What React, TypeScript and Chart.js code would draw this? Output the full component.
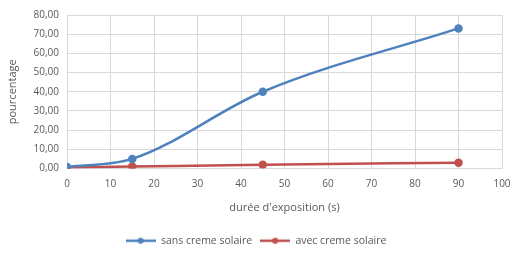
import React, { useEffect, useRef } from "react";
import { Chart, registerables } from "chart.js";

Chart.register(...registerables);

const durations = [0, 15, 45, 90];
const sansCreme = [0.8, 5, 40, 73];
const avecCreme = [0.5, 1, 2, 3];
const xTicks = [0, 10, 20, 30, 40, 50, 60, 70, 80, 90, 100];
const yTicks = [0, 10, 20, 30, 40, 50, 60, 70, 80];

const BLUE = "#4F81BD";
const RED = "#C0504D";
const FONT = "'Open Sans', 'DejaVu Sans', sans-serif";

function legendIcon(color: string) {
  const c = document.createElement("canvas");
  c.width = 30;
  c.height = 10;
  const ctx = c.getContext("2d")!;
  ctx.strokeStyle = color;
  ctx.lineWidth = 2.5;
  ctx.beginPath();
  ctx.moveTo(0, 5);
  ctx.lineTo(30, 5);
  ctx.stroke();
  ctx.fillStyle = color;
  ctx.beginPath();
  ctx.arc(15, 5, 3, 0, Math.PI * 2);
  ctx.fill();
  return c;
}

export default function App() {
  const ref = useRef<HTMLCanvasElement>(null);
  useEffect(() => {
    document.body.style.margin = "0";
    const icons = [legendIcon(BLUE), legendIcon(RED)];
    const chart = new Chart(ref.current!, {
      type: "line",
      data: {
        datasets: [
          {
            label: "sans creme solaire",
            data: durations.map((x, i) => ({ x, y: sansCreme[i] })),
            borderColor: BLUE,
            backgroundColor: BLUE,
            borderWidth: 2.5,
            pointRadius: 3,
            tension: 0.4,
            cubicInterpolationMode: "monotone",
          },
          {
            label: "avec creme solaire",
            data: durations.map((x, i) => ({ x, y: avecCreme[i] })),
            borderColor: RED,
            backgroundColor: RED,
            borderWidth: 2.5,
            pointRadius: 3,
            tension: 0.4,
            cubicInterpolationMode: "monotone",
          },
        ],
      },
      options: {
        animation: false,
        responsive: false,
        layout: { padding: { left: 0, right: 0, top: 15, bottom: -3 } },
        plugins: {
          tooltip: { enabled: false },
          legend: {
            position: "bottom",
            labels: {
              color: "#595959",
              font: { family: FONT, size: 10.5 },
              usePointStyle: true,
              pointStyleWidth: 30,
              boxHeight: 10,
              padding: 8,
              generateLabels: (ch: any) =>
                ch.data.datasets.map((d: any, i: number) => ({
                  text: d.label,
                  fillStyle: d.borderColor,
                  strokeStyle: d.borderColor,
                  pointStyle: icons[i],
                  lineWidth: 0,
                  datasetIndex: i,
                  fontColor: "#595959",
                })),
            },
          },
        },
        scales: {
          x: {
            type: "linear",
            min: 0,
            max: 100,
            afterBuildTicks: (s: any) => {
              s.ticks = xTicks.map((v) => ({ value: v }));
            },
            afterFit: (s: any) => {
              s.height = 59;
              s.paddingLeft = 0;
              s.paddingRight = 10;
            },
            grid: { color: "#D9D9D9", drawTicks: false },
            border: { color: "#D9D9D9" },
            ticks: {
              color: "#595959",
              font: { family: FONT, size: 10 },
              padding: 10,
              maxRotation: 0,
            },
            title: {
              display: true,
              text: "durée d'exposition (s)",
              color: "#595959",
              font: { family: FONT, size: 11 },
              padding: { top: 4, bottom: 13 },
            },
          },
          y: {
            min: 0,
            max: 80,
            afterBuildTicks: (s: any) => {
              s.ticks = yTicks.map((v) => ({ value: v }));
            },
            afterFit: (s: any) => {
              s.width = 67;
            },
            grid: { color: "#D9D9D9", drawTicks: false },
            border: { display: false },
            ticks: {
              color: "#595959",
              font: { family: FONT, size: 10 },
              padding: 8,
              callback: (v: any) => Number(v).toFixed(2).replace(".", ","),
            },
            title: {
              display: true,
              text: "pourcentage",
              color: "#595959",
              font: { family: FONT, size: 11 },
              padding: 6,
            },
          },
        },
      },
    } as any);
    return () => chart.destroy();
  }, []);
  return (
    <div style={{ width: 512, height: 253 }}>
      <canvas ref={ref} width={512} height={253} style={{ width: 512, height: 253 }} />
    </div>
  );
}
